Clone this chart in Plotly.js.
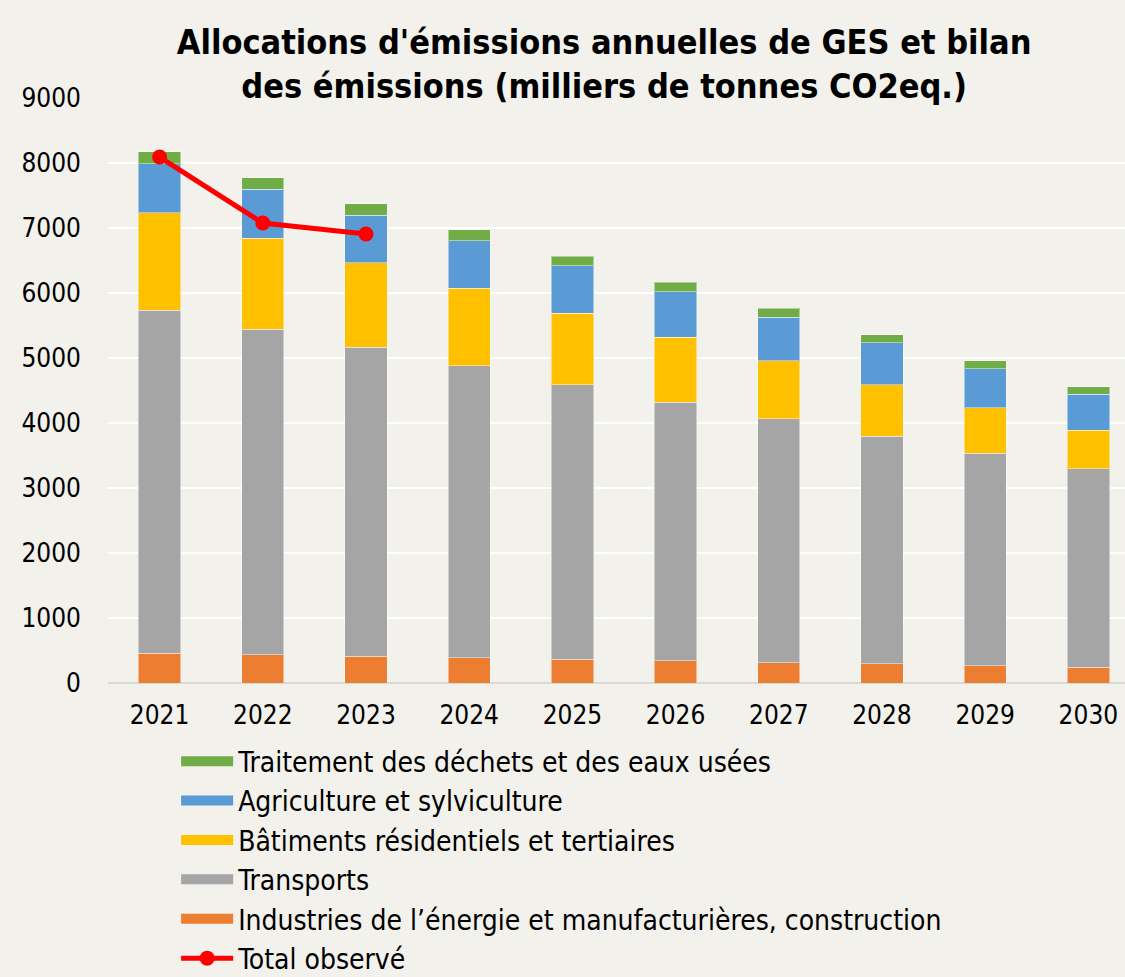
<!DOCTYPE html>
<html>
<head>
<meta charset="utf-8">
<script src="https://cdn.plot.ly/plotly-3.0.1.min.js"></script>
<style>
html,body{margin:0;padding:0;background:#f2f1ec;overflow:hidden;}
#chart{width:1125px;height:977px;}
</style>
</head>
<body>
<div id="chart"></div>
<script>
const years = ["2021","2022","2023","2024","2025","2026","2027","2028","2029","2030"];
const industries = [457, 431, 415, 385, 365, 339, 313, 298, 267, 246];
const transports = [5281, 5015, 4750, 4498, 4226, 3984, 3749, 3497, 3271, 3052];
const batiments = [1499, 1400, 1297, 1194, 1097, 995, 892, 796, 693, 594];
const agriculture = [753, 749, 738, 729, 733, 703, 672, 640, 606, 549];
const dechets = [182, 180, 175, 169, 148, 148, 139, 129, 117, 113];
const totalYears = ["2021","2022","2023"];
const totalObserve = [8092, 7077, 6908];
const yTicks = [0,1000,2000,3000,4000,5000,6000,7000,8000,9000];

const FONT = "'DejaVu Sans Condensed', 'DejaVu Sans', sans-serif";

const series = [
  {name:"Industries de l\u2019énergie et manufacturières, construction", y:industries, color:"#ED7D31", rank:5},
  {name:"Transports", y:transports, color:"#A5A5A5", rank:4},
  {name:"Bâtiments résidentiels et tertiaires", y:batiments, color:"#FFC000", rank:3},
  {name:"Agriculture et sylviculture", y:agriculture, color:"#5B9BD5", rank:2},
  {name:"Traitement des déchets et des eaux usées", y:dechets, color:"#70AD47", rank:1}
];

const traces = [];
series.forEach(s => {
  traces.push({
    type:"bar", x:years, y:s.y, name:s.name, showlegend:false,
    marker:{color:s.color, line:{color:"rgba(255,255,255,0.45)", width:1}},
    hoverinfo:"x+y+name"
  });
});
// legend entries (wide swatches)
series.forEach(s => {
  traces.push({
    type:"scatter", mode:"lines", x:[null], y:[null], name:s.name,
    legendrank:s.rank, line:{color:s.color, width:16}, hoverinfo:"skip"
  });
});
traces.push({
  type:"scatter", mode:"lines+markers", x:totalYears, y:totalObserve,
  name:"Total observé", legendrank:6,
  line:{color:"#FF0000", width:5}, marker:{color:"#FF0000", size:15}
});

const layout = {
  width:1125, height:977,
  paper_bgcolor:"#f2f1ec", plot_bgcolor:"#f2f1ec",
  font:{family:FONT, size:26, color:"#000"},
  barmode:"stack", bargap:0.59,
  margin:{l:108, r:0, t:98, b:294, autoexpand:false},
  title:{
    text:"<b>Allocations d'émissions annuelles de GES et bilan<br>des émissions (milliers de tonnes CO2eq.)</b>",
    font:{family:FONT, size:34, color:"#000"},
    x:0.537, xanchor:"center", xref:"container",
    y:0.945, yanchor:"top", yref:"container"
  },
  xaxis:{
    type:"category", range:[-0.5, 9.355], showgrid:false, zeroline:false,
    showline:false, ticks:"", tickfont:{size:26}, ticklabelstandoff:14
  },
  yaxis:{
    range:[0, 9000], tickvals:yTicks, ticktext:yTicks.map(String),
    showgrid:true, gridcolor:"#ffffff", gridwidth:2,
    zeroline:true, zerolinecolor:"#d9d9d9", zerolinewidth:2,
    showline:false, ticks:"", tickfont:{size:26}, ticklabelstandoff:26
  },
  legend:{
    x:0.067, xanchor:"left", y:0.2462, yanchor:"top", yref:"container",
    orientation:"v", bgcolor:"rgba(0,0,0,0)", traceorder:"normal",
    font:{family:FONT, size:28, color:"#000"},
    itemwidth:52, tracegroupgap:0
  },
  showlegend:true
};

Plotly.newPlot("chart", traces, layout, {displayModeBar:false, responsive:false});
</script>
</body>
</html>
